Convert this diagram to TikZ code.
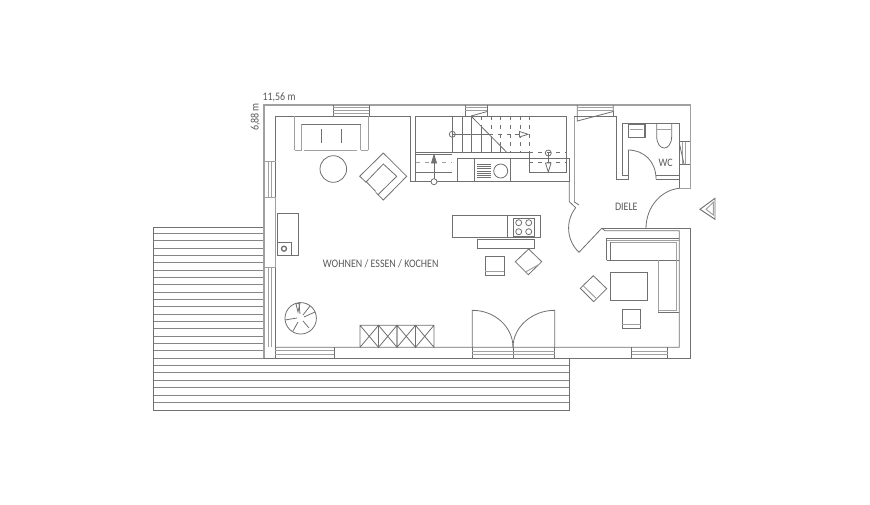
\documentclass[tikz,border=0pt]{standalone}
\usepackage{fontspec}
\setmainfont[FakeStretch=0.87]{Carlito}
\definecolor{wall}{HTML}{707070}
\definecolor{lite}{HTML}{A0A0A0}
\tikzset{
  ln/.style={draw=wall,line width=0.6pt},
  lg/.style={draw=lite,line width=0.7pt},
  dsh/.style={draw=wall,line width=0.55pt,dash pattern=on 3pt off 3.6pt},
  lab/.style={text=wall!80!black,inner sep=0pt,font=\fontsize{8.6}{10}\selectfont}
}
\begin{document}
\begin{tikzpicture}[x=0.75pt,y=-0.75pt]
\useasboundingbox (0,0) rectangle (870,504);
\fill[white] (0,0) rectangle (870,504);
% terrace
\foreach \k in {0,...,23}{ \pgfmathsetmacro{\yy}{233.3+7.35*\k}
  \pgfmathparse{\yy<358?1:0}
  \ifnum\pgfmathresult=1 \draw[lg,draw=wall!85] (153.3,\yy) -- (264,\yy); \else \draw[lg,draw=wall!85] (153.3,\yy) -- (569.3,\yy); \fi }
\draw[ln,line width=0.75pt] (264,227.3) -- (153.3,227.3) -- (153.3,410) -- (569.3,410) -- (569.3,358.3);
% outer walls
\draw[lg,line width=0.8pt] (264,358.3) -- (264,105) -- (690.3,105) -- (690.3,188.3) -- (679.3,188.3);
\draw[ln] (264,358.3) -- (690.7,358.3) -- (690.7,228.3) -- (602.3,228.3);
\draw[ln] (275.5,197.7) -- (275.5,116) -- (333,116);
\draw[ln] (275.5,267.3) -- (275.5,358.3);
\draw[lg] (275.5,197.7) -- (275.5,267.3);
\draw[lg] (264,197.7) -- (275.5,197.7) (264,267.3) -- (275.5,267.3) (264,161.3) -- (275.5,161.3);
\draw[ln] (369.3,116) -- (410.7,116) -- (410.7,181) -- (457.3,181);
\draw[ln] (457.3,181) -- (569.3,181) -- (569.3,158.3) -- (457.3,158.3) -- (457.3,181);
\draw[ln] (275.5,347.3) -- (679.3,347.3) -- (679.3,230.7) -- (605,230.7) -- (601.7,228.3);
% windows
\draw[lg] (268.3,161.3) -- (268.3,197.7) (271.7,161.3) -- (271.7,197.7);
\draw[lg] (268.3,267.3) -- (268.3,347.3) (271.7,267.3) -- (271.7,347.3);
\draw[ln] (333,105) -- (333,116) (369.3,105) -- (369.3,116) (333,116) -- (369.3,116);
\draw[lg] (333,107.7) -- (369.3,107.7) (333,110) -- (369.3,110) (333,113) -- (369.3,113);
\draw[ln] (275.3,347.3) -- (275.3,358.3) (334.3,347.3) -- (334.3,358.3);
\draw[lg] (275.3,350) -- (334.3,350) (275.3,354) -- (334.3,354);
\draw[ln] (472.3,347.3) -- (472.3,358.3) (513,347.3) -- (513,358.3) (554.7,347.3) -- (554.7,358.3);
\draw[lg] (472.3,351.7) -- (554.7,351.7) (472.3,354) -- (554.7,354);
\draw[ln] (631.7,347.3) -- (631.7,358.3) (667.7,347.3) -- (667.7,358.3);
\draw[lg] (631.7,351.7) -- (667.7,351.7) (631.7,354) -- (667.7,354);
\draw[ln] (465.3,105) -- (465.3,116) (487.3,105) -- (487.3,116);
\draw[lg] (465.3,107.7) -- (487.3,107.7) (465.3,110.3) -- (487.3,110.3);
\draw[ln] (471,116) -- (487.3,111.5);
\draw[ln] (577.3,105) -- (577.3,121) -- (613.3,111.5) -- (613.3,105);
\draw[lg] (577.3,107.7) -- (613.3,107.7) (577.3,110.3) -- (613.3,110.3) (577.3,116) -- (596,116);
\draw[ln] (613.3,116) -- (613.3,111);
\draw[ln] (679.3,141.7) -- (690.3,141.7) (679.3,164.3) -- (690.3,164.3);
\draw[lg] (682,141.7) -- (682,164.3) (685,141.7) -- (685,164.3);
\draw[ln] (679.3,143) -- (684,164);
% sofa
\draw[lg] (294.7,116) -- (294.7,150) (368.3,116) -- (368.3,150) (301.7,124.3) -- (301.7,150) (360.7,124.3) -- (360.7,150) (294.7,150) -- (301.7,150) (304,150) -- (357.3,150) (360.7,150) -- (368.3,150);
\draw[ln] (301.7,124.3) -- (360.7,124.3) (321.3,129) -- (321.3,143) (341,129) -- (341,143);
\draw[ln] (333.3,169) circle[radius=13.3];
% armchair
\draw[ln] (383.3,153) -- (406.7,176.3) -- (383.3,200) -- (375.7,192.3) (383.3,153) -- (359.7,176.3) -- (366.3,182.5);
\draw[ln] (366.3,181.7) -- (383.3,164) -- (396.7,176.3) -- (377.7,195) (366.3,181.7) -- (375.7,191.5);
% stairs left
\draw[ln] (415.7,116) -- (566.7,116) -- (566.7,172.3) -- (529.3,172.3) -- (529.3,152.3) -- (415.7,152.3);
\draw[ln] (415.7,116) -- (415.7,181) (415.7,154) -- (452.3,154);
\draw[dsh,draw=lite] (415.7,162.7) -- (452.3,162.7);
\draw[ln] (415.7,172.3) -- (452.3,172.3);
\draw[dsh] (415.7,181) -- (457,181);
\foreach \x in {452.3,462.3,471.7} \draw[ln] (\x,116) -- (\x,152.3);
\draw[ln] (481.7,126.7) -- (481.7,152.3) (491,136) -- (491,152.3) (500.7,146) -- (500.7,152.3);
\draw[ln] (471,116) -- (506.7,152.3);
\foreach \x/\y in {481/125,491/135,500.7/145,510.3/152,520/152,529.3/152} \draw[dsh] (\x,116) -- (\x,\y);
\draw[ln] (452.3,134.3) -- (489,134.3);
\draw[dsh] (489,134.3) -- (529.3,134.3);
\draw[ln] (452.3,134.3) circle[radius=3];
\draw[ln,fill=white] (519.5,131.5) -- (528,134.3) -- (519.5,137) -- cycle;
\draw[dsh] (529.3,152.7) -- (566.7,152.7) (529.3,162.7) -- (566.7,162.7);
\draw[ln] (548.3,153) -- (548.3,172.3);
\draw[ln] (548.3,153) circle[radius=3];
\draw[ln,fill=white] (545.5,163) -- (548.3,172) -- (551,163) -- cycle;
\draw[ln] (434,181) -- (434,154);
\draw[ln,fill=wall] (431.5,163) -- (434,155) -- (436.5,163) -- cycle;
\draw[ln,fill=white] (434,181.7) circle[radius=3];
% kitchen back
\draw[ln] (474,158.3) -- (474,181) (510.7,158.3) -- (510.7,181);
\foreach \y in {164.3,166.5,168.8,171,173.2,175.5,177.7} \draw[ln,line width=0.5pt] (477.3,\y) -- (490.7,\y);
\draw[ln] (500.7,171) circle[radius=7];
% right wall of stairs / hall
\draw[lg] (574,116) -- (574,201.7);
\draw[ln] (574,201.7) -- (579,205) (569.3,181) -- (569.3,201.7) -- (575.7,207.7);
\draw[ln] (574,116) -- (616.7,116);
\draw[ln] (579,252.3) -- (601.7,228.3);
\draw[ln] (575.7,207.7) .. controls (565,221.2) and (566.6,240.5) .. (579,252.3);
% WC
\draw[ln] (616.7,116) -- (616.7,179) -- (628,179) -- (628,150);
\draw[ln] (622.3,175) -- (622.3,123.3) -- (679.3,123.3) -- (679.3,188.3);
\draw[ln] (622.3,175) -- (628,175);
\draw[ln] (628,150) .. controls (643.5,150) and (656,161) .. (656,179);
\draw[ln] (656,175) -- (679.3,175) (656,179) -- (679.3,179);
\draw[ln,line width=0.9pt] (628.3,124.3) rectangle (645,137.7);
\draw[lg] (630,129) -- (643,129);
\draw[ln] (656.7,123.3) -- (656.7,136) .. controls (656.7,152) and (671.7,152) .. (671.7,136) -- (671.7,123.3);
\draw[lg] (656.7,129.3) -- (671.7,129.3);
% entry door
\draw[ln] (646,228.3) .. controls (646,207) and (661,190) .. (679.3,188.3);
\draw[ln,line width=0.7pt] (700,209.3) -- (715,198.3) -- (715,219.3) -- cycle;
\draw[lg] (706,209.3) -- (713.3,202.3) -- (713.3,215) -- cycle;
% island
\draw[ln] (452.7,215.3) rectangle (540.7,237.7);
\draw[ln] (507.7,215.3) -- (507.7,237.7);
\draw[ln,line width=0.7pt] (513.3,218.3) rectangle (534,236.7);
\foreach \x/\y in {518.7/222.7,528.7/222.7,518.7/231.7,528.7/231.7} \draw[ln] (\x,\y) circle[radius=3];
\draw[ln] (477.3,239) rectangle (534.3,248.3);
% stool & chairs
\draw[ln] (485.3,256) rectangle (504.3,275); \draw[lg] (485.3,271) -- (504.3,271);
\draw[ln] (528.7,249) -- (541.7,261.7) -- (528.3,274.7) -- (515.3,261.7) -- cycle;
\draw[lg] (539,264.5) -- (525.5,272);
\draw[ln] (593.3,275.7) -- (606.7,288.7) -- (593.7,301.7) -- (580.3,288.3) -- cycle;
\draw[lg] (583,285.5) -- (596.5,298.8);
% corner sofa
\draw[ln,line width=0.75pt] (606.7,260.3) -- (606.7,238.3) -- (679.3,238.3);
\draw[ln] (606.7,260.3) -- (679.3,260.3) (610.7,260.3) -- (610.7,242.3);
\draw[lg] (610.7,242.3) -- (676,242.3) -- (676,310) -- (658.3,310);
\draw[lg] (606.7,240) -- (679.3,240);
\draw[lg] (658.3,260.3) -- (658.3,312.7);
\draw[ln] (658.3,312.7) -- (679.3,312.7);
\draw[ln] (610.7,272.7) rectangle (647.7,300.7);
\draw[ln] (622,309.3) rectangle (640.7,328); \draw[lg] (622,324.3) -- (640.7,324.3);
% french doors
\draw[ln] (472.3,347.3) -- (472.3,310.3) .. controls (494.8,310.3) and (513,327) .. (513,347.3);
\draw[ln] (554.7,347.3) -- (554.7,310.3) .. controls (532.2,310.3) and (513,327) .. (513,347.3);
% left counter
\draw[ln] (277.3,213.3) rectangle (298.3,255.3);
\draw[ln] (277.3,242.3) -- (291,242.3) -- (291,255.3);
\draw[ln,line width=1pt] (284,248.7) circle[radius=2.5];
% plant
\draw[ln] (300.7,318.3) circle[radius=15.7];
\draw[ln] (285,320) -- (297,318) (293,331) -- (298,322) (309,328) -- (303,321) (315,312) -- (304,317) (310,306) -- (303,315) (299,303) -- (300,314);
\draw[ln] (296,304) -- (300,303) -- (298,312) -- cycle;
% shelf
\draw[ln] (360,347.3) -- (360,325.3) -- (378.5,325.3) -- (378.5,347.3) -- (360,325.3) (378.5,325.3) -- (360,347.3);
\foreach \a/\b in {378.5/397,397/415.5,415.5/434} \draw[ln] (\a,347.3) -- (\a,325.3) -- (\b,325.3) -- (\b,347.3) -- (\a,325.3) (\b,325.3) -- (\a,347.3);
% text
\node[lab] (len) at (279,97.5) {11,56 m};
\node[lab,rotate=90] (wid) at (255.5,117) {6,88 m};
\node[lab] (room) at (380.7,264) {WOHNEN / ESSEN / KOCHEN};
\node[lab] (diele) at (626.3,207.3) {DIELE};
\node[lab] (wc) at (665.7,163) {WC};
\end{tikzpicture}
\end{document}
